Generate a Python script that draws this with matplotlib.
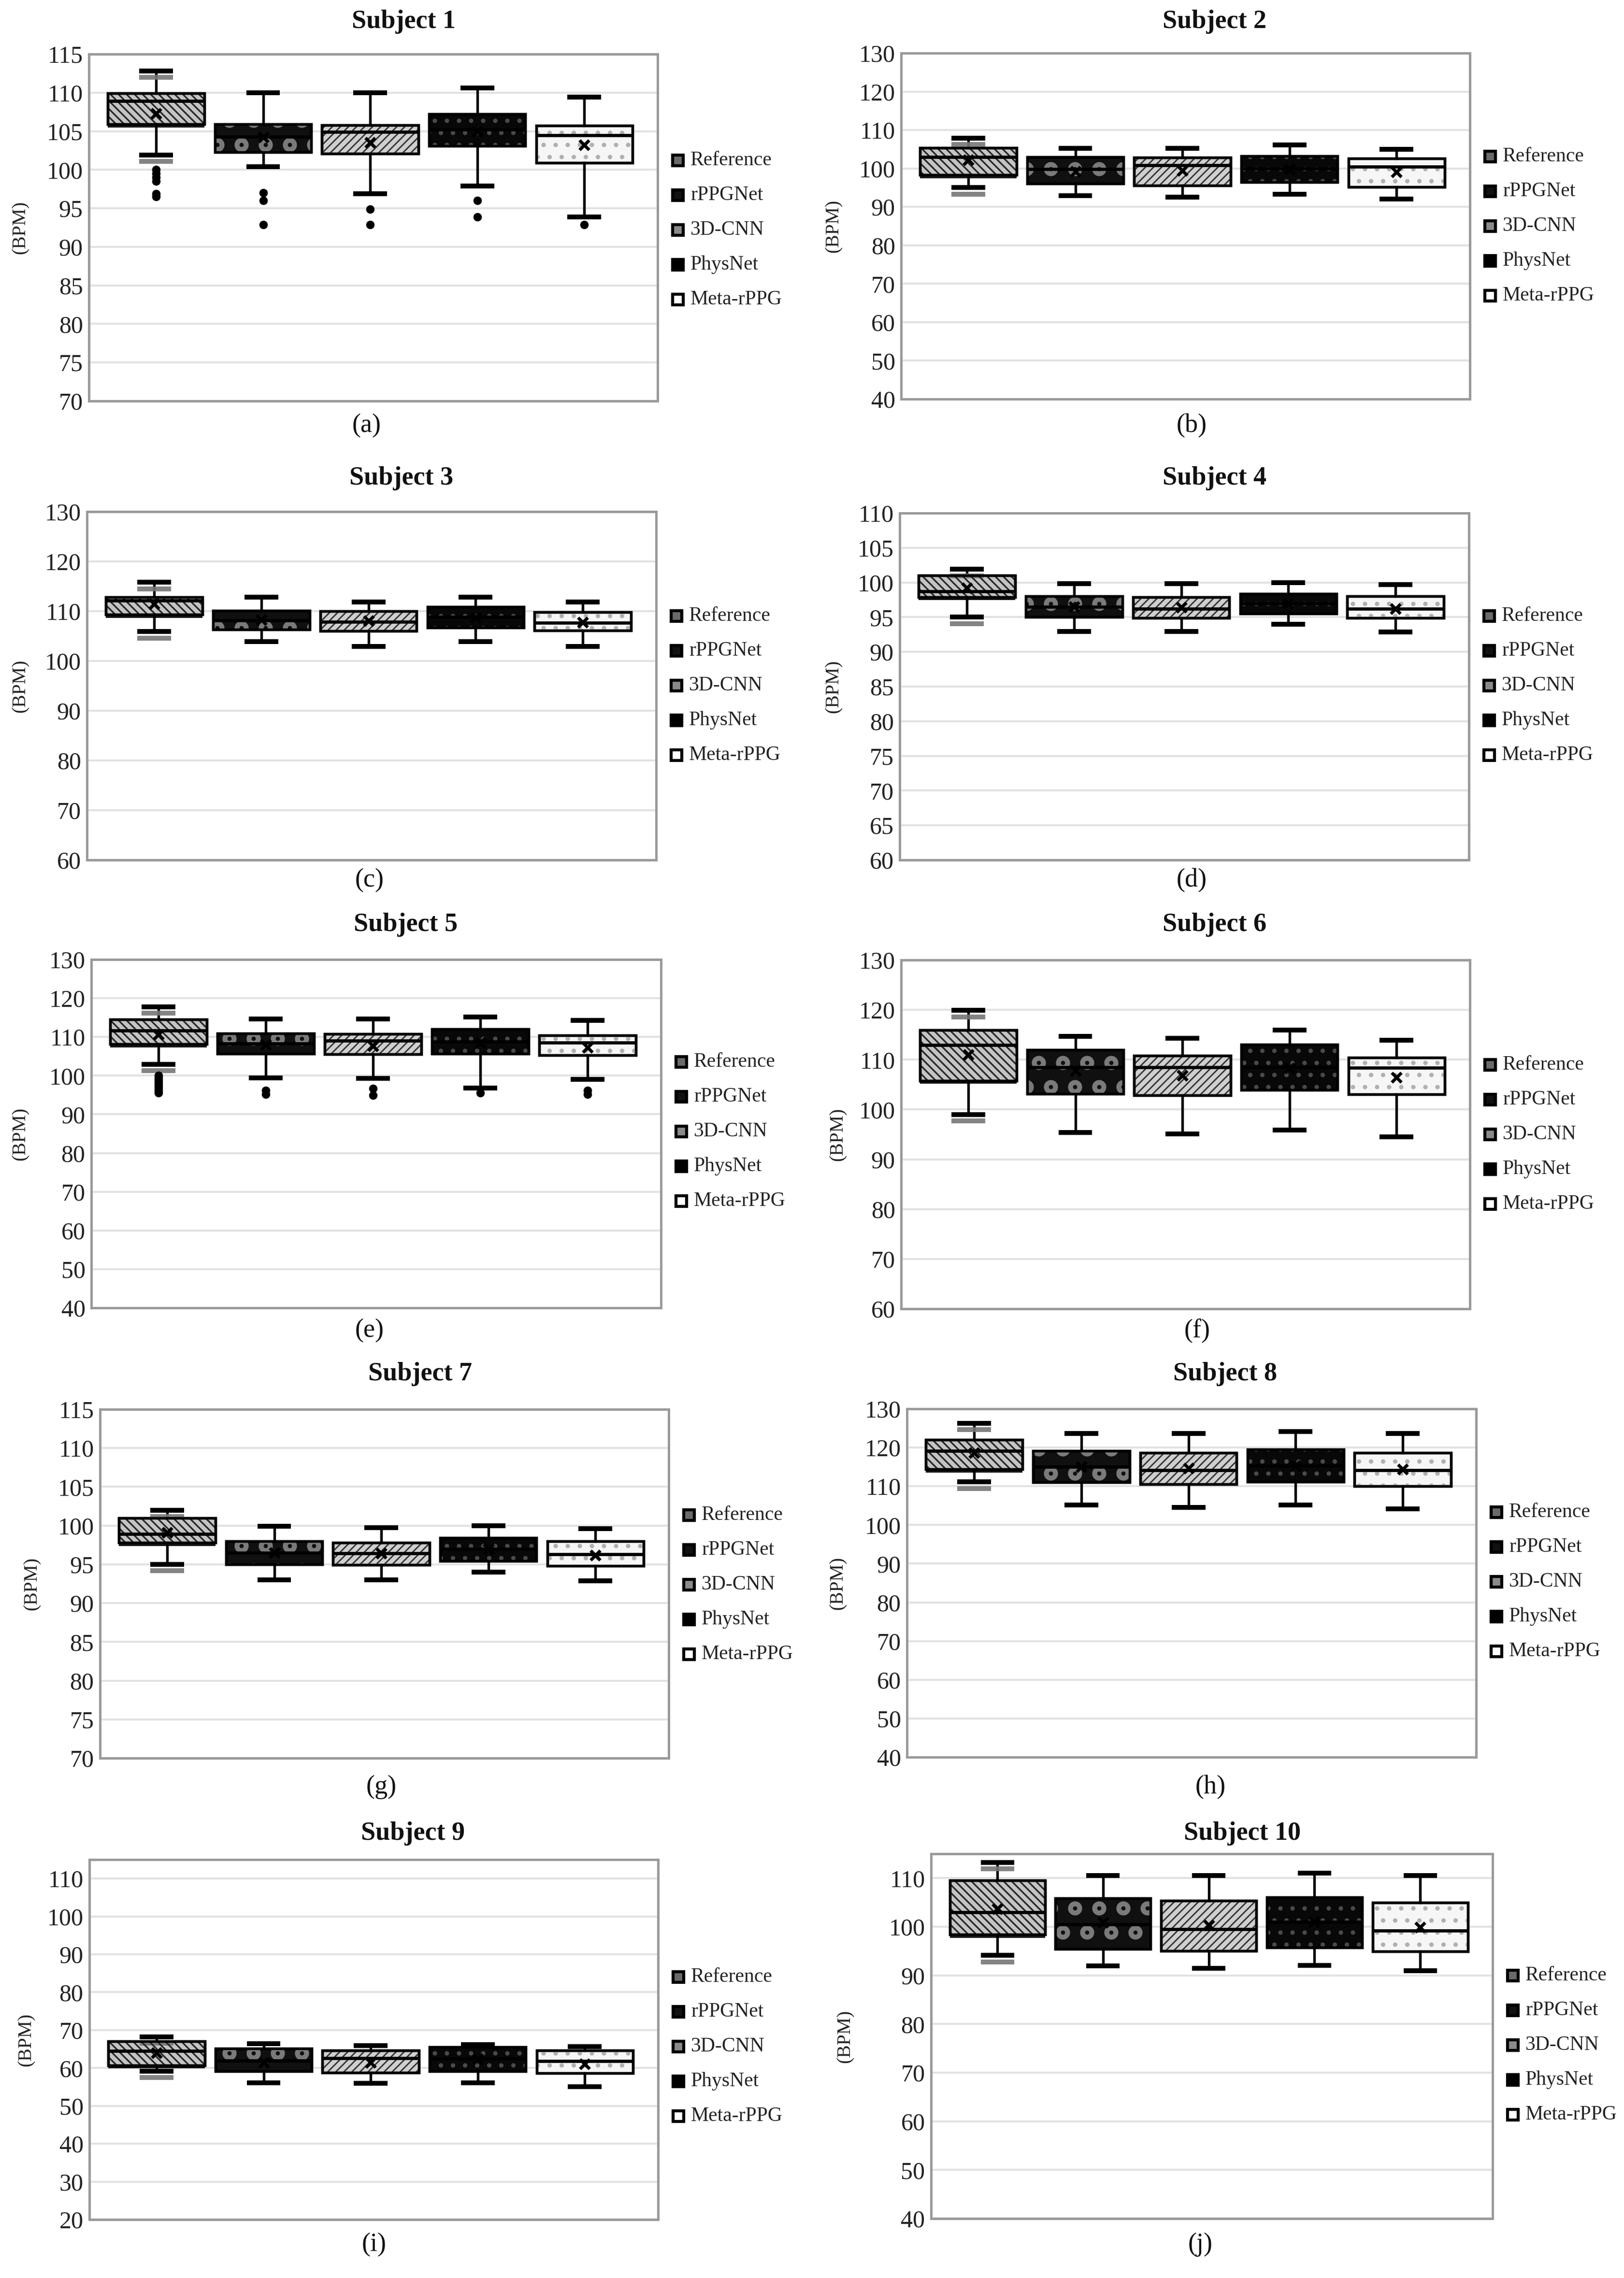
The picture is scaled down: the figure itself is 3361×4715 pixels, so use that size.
import numpy as np
import matplotlib
matplotlib.use("Agg")
import matplotlib.pyplot as plt
from matplotlib.patches import Rectangle
import matplotlib.patheffects as pe

# ---------------- data ----------------
METHODS = ["Reference", "rPPGNet", "3D-CNN", "PhysNet", "Meta-rPPG"]
SUBJECTS = ["Subject %d" % i for i in range(1, 11)]
PANEL_LABELS = ["(a)", "(b)", "(c)", "(d)", "(e)", "(f)", "(g)", "(h)", "(i)", "(j)"]

WHISKER_HIGH = [
    [112.8, 110.0, 110.0, 110.6, 109.4],
    [107.9, 105.3, 105.2, 106.1, 105.0],
    [115.8, 112.8, 111.8, 112.8, 111.8],
    [101.9, 99.85, 99.85, 99.95, 99.7],
    [117.8, 114.7, 114.7, 115.2, 114.3],
    [119.9, 114.7, 114.3, 115.9, 113.9],
    [102.0, 99.9, 99.7, 99.95, 99.6],
    [126.3, 123.6, 123.6, 124.1, 123.6],
    [68.2, 66.4, 65.9, 66.2, 65.7],
    [113.2, 110.5, 110.5, 111.0, 110.5],
]
Q3 = [
    [109.9, 105.9, 105.8, 107.2, 105.7],
    [105.4, 103.0, 102.8, 103.25, 102.6],
    [112.8, 110.1, 110.0, 110.9, 109.8],
    [101.0, 98.0, 97.9, 98.4, 98.0],
    [114.5, 110.9, 110.8, 112.0, 110.45],
    [115.9, 112.0, 110.8, 113.0, 110.4],
    [101.0, 98.0, 97.8, 98.4, 98.0],
    [122.0, 119.2, 118.6, 119.5, 118.6],
    [67.0, 65.2, 64.65, 65.5, 64.65],
    [109.5, 105.9, 105.4, 106.1, 105.0],
]
MEDIAN = [
    [108.9, 104.3, 104.9, 105.2, 104.5],
    [103.0, 99.8, 100.8, 100.0, 100.4],
    [112.1, 108.2, 107.9, 108.8, 107.7],
    [98.7, 96.5, 96.2, 97.0, 96.2],
    [111.6, 108.3, 109.0, 108.8, 108.5],
    [112.9, 108.5, 108.5, 108.5, 108.4],
    [98.9, 96.5, 96.4, 97.0, 96.3],
    [119.1, 115.0, 114.1, 115.3, 114.1],
    [64.5, 62.0, 62.6, 62.5, 61.8],
    [103.0, 100.5, 99.5, 101.0, 99.2],
]
Q1 = [
    [105.9, 102.3, 102.1, 103.1, 100.9],
    [98.3, 96.1, 95.6, 96.4, 95.2],
    [109.3, 106.3, 106.0, 106.7, 106.1],
    [97.9, 95.0, 94.9, 95.5, 94.9],
    [108.1, 105.6, 105.5, 105.6, 105.3],
    [105.8, 103.15, 102.9, 103.9, 103.0],
    [97.8, 95.0, 94.9, 95.45, 94.8],
    [114.4, 111.0, 110.5, 111.1, 110.0],
    [60.7, 59.2, 58.8, 59.1, 58.6],
    [98.4, 95.4, 95.0, 95.7, 94.9],
]
WHISKER_LOW = [
    [101.9, 100.4, 96.9, 97.9, 93.9],
    [95.0, 92.9, 92.5, 93.25, 92.1],
    [105.9, 103.9, 102.9, 103.9, 102.9],
    [95.0, 92.95, 92.95, 94.0, 92.85],
    [102.9, 99.4, 99.3, 96.8, 99.0],
    [99.0, 95.4, 95.1, 95.9, 94.5],
    [95.0, 93.0, 93.0, 94.0, 92.9],
    [111.1, 105.2, 104.5, 105.2, 104.2],
    [59.2, 56.05, 55.9, 56.05, 55.1],
    [94.1, 92.0, 91.5, 92.1, 91.0],
]
MEAN = [
    [107.3, 104.2, 103.5, 105.0, 103.2],
    [102.2, 99.2, 99.4, 99.8, 99.1],
    [111.5, 108.3, 108.1, 108.7, 107.8],
    [99.2, 96.5, 96.4, 97.0, 96.2],
    [110.6, 108.0, 107.7, 108.5, 107.3],
    [111.0, 107.8, 106.8, 108.3, 106.4],
    [99.1, 96.5, 96.4, 97.0, 96.2],
    [118.6, 115.0, 114.7, 115.3, 114.4],
    [64.0, 61.5, 61.5, 62.3, 61.1],
    [103.7, 100.9, 100.3, 101.0, 99.9],
]
FLIERS = [
    [[100.0, 99.5, 99.0, 98.5, 96.9, 96.5], [97.0, 96.0, 92.9], [94.9, 92.9], [96.0, 93.9], [92.9]],
    [[], [], [], [], []],
    [[], [], [], [], []],
    [[], [], [], [], []],
    [[100.1, 99.5, 99.0, 98.5, 98.0, 97.5, 97.0, 96.5, 96.0, 95.6], [96.2, 95.2], [96.7, 94.9], [95.6], [96.2, 95.2]],
    [[], [], [], [], []],
    [[], [], [], [], []],
    [[], [], [], [], []],
    [[], [], [], [], []],
    [[], [], [], [], []],
]
Y_MIN = [70, 40, 60, 60, 40, 60, 70, 40, 20, 40]
Y_MAX = [115, 130, 130, 110, 130, 130, 115, 130, 115, 115]
Y_STEP = [5, 10, 10, 5, 10, 10, 5, 10, 10, 10]

# ---------------- layout (pixels) ----------------
W, H = 3361, 4715
AX_PX = [
    (184, 112, 1361, 830), (1865, 110, 3042, 826),
    (180, 1059, 1358, 1780), (1862, 1062, 3040, 1780),
    (189, 1986, 1368, 2707), (1865, 1987, 3042, 2709),
    (207, 2917, 1384, 3639), (1877, 2916, 3055, 3637),
    (185, 3849, 1362, 4594), (1927, 3837, 3089, 4592),
]
TITLE_PX = [(835, 45), (2514, 45), (831, 990), (2514, 990), (840, 1914),
            (2514, 1914), (870, 2844), (2535, 2844), (855, 3795), (2571, 3795)]
LABEL_PX = [(759, 881), (2466, 881), (765, 1822), (2466, 1822), (765, 2754),
            (2478, 2754), (789, 3699), (2505, 3699), (774, 4646), (2484, 4646)]
YLAB_X = [42, 1725, 42, 1725, 42, 1734, 66, 1734, 54, 1749]
LEG_Y0 = [332, 324, 1275, 1275, 2198, 2204, 3136, 3130, 4092, 4089]

FACE = ["#c4c4c4", "#101010", "#cfcfcf", "#080808", "#f6f6f6"]
HATCH = ["\\" * 6, "o", "/" * 6, "..", ".."]
HATCH_COL = ["#262626", "#7a7a7a", "#333333", "#4a4a4a", "#b0b0b0"]
HATCH_LW = [0.8, 2.2, 0.7, 1.0, 1.0]
LEG_FACE = ["#6a6a6a", "#111111", "#8a8a8a", "#000000", "#ffffff"]

SERIF = ["Liberation Serif", "DejaVu Serif"]
plt.rcParams["font.family"] = SERIF

fig = plt.figure(figsize=(W / 300, H / 300), dpi=300)
fig.patch.set_facecolor("white")


def fxy(px, py):
    return px / W, 1 - py / H


positions = np.arange(1, 6)
BW = 0.9

for k in range(10):
    L, T, R, B = AX_PX[k]
    ax = fig.add_axes([L / W, 1 - B / H, (R - L) / W, (B - T) / H])
    stats = []
    for i in range(5):
        stats.append(dict(whislo=WHISKER_LOW[k][i], q1=Q1[k][i], med=MEDIAN[k][i],
                          q3=Q3[k][i], whishi=WHISKER_HIGH[k][i], mean=MEAN[k][i],
                          fliers=FLIERS[k][i], label=METHODS[i]))
    bp = ax.bxp(stats, positions=positions, widths=BW, patch_artist=True,
                showmeans=True, capwidths=0.27, manage_ticks=False,
                boxprops=dict(linewidth=1.3, edgecolor="black"),
                whiskerprops=dict(linewidth=1.3, color="black"),
                capprops=dict(linewidth=2.4, color="black"),
                medianprops=dict(linewidth=1.6, color="black"),
                meanprops=dict(marker="x", markersize=5, markeredgewidth=1.6,
                               markeredgecolor="black"),
                flierprops=dict(marker="o", markersize=3.2, markerfacecolor="black",
                                markeredgecolor="black"))
    for i in range(5):
        box = bp["boxes"][i]
        box.set_facecolor(FACE[i])
        box.set_zorder(2)
        if i == 0:
            box.set_path_effects([pe.SimplePatchShadow(offset=(0, -1.6),
                                                       shadow_rgbFace="black", alpha=0.9),
                                  pe.Normal()])
        with plt.rc_context({"hatch.linewidth": HATCH_LW[i]}):
            hp = Rectangle((positions[i] - BW / 2, Q1[k][i]), BW, Q3[k][i] - Q1[k][i],
                           facecolor="none", edgecolor=HATCH_COL[i], linewidth=0,
                           hatch=HATCH[i], zorder=2.05)
        ax.add_patch(hp)
        ax.add_patch(Rectangle((positions[i] - BW / 2, Q1[k][i]), BW, Q3[k][i] - Q1[k][i],
                               facecolor="none", edgecolor="black", linewidth=1.3,
                               zorder=2.1))
        bp["medians"][i].set_zorder(2.2)
        bp["means"][i].set_zorder(2.3)
    for c in bp["caps"][0:2]:
        c.set_path_effects([pe.SimpleLineShadow(offset=(0, -3.2), shadow_color="#777777",
                                                alpha=0.9), pe.Normal()])

    ax.set_xlim(0.373, 5.685)
    ax.set_ylim(Y_MIN[k], Y_MAX[k])
    ticks = np.arange(Y_MIN[k], Y_MAX[k] + 0.01, Y_STEP[k])
    ax.set_yticks(ticks)
    ax.set_yticklabels(["%d" % t for t in ticks])
    ax.set_xticks([])
    ax.tick_params(axis="y", length=0, pad=3, labelsize=12, labelcolor="#222222")
    ax.yaxis.grid(True, color="#e2e2e2", linewidth=1.0)
    ax.set_axisbelow(True)
    for s in ax.spines.values():
        s.set_color("#9a9a9a")
        s.set_linewidth(1.2)

    # title, panel label, y label
    tx, ty = fxy(*TITLE_PX[k])
    fig.text(tx, ty, SUBJECTS[k], ha="center", va="center", fontsize=13,
             fontweight="bold", color="#111111")
    lx, ly = fxy(*LABEL_PX[k])
    fig.text(lx, ly, PANEL_LABELS[k], ha="center", va="center", fontsize=13,
             color="#111111")
    yx, yy = fxy(YLAB_X[k], (T + B) / 2)
    fig.text(yx, yy, "(BPM)", rotation=90, ha="center", va="center", fontsize=9.5,
             color="#222222")

    # legend
    mx = R + 42
    for i in range(5):
        py = LEG_Y0[k] + 72 * i
        x0, y0 = fxy(mx - 11, py + 11)
        fig.patches.append(Rectangle((x0, y0), 22 / W, 22 / H, transform=fig.transFigure,
                                     facecolor=LEG_FACE[i], edgecolor="black",
                                     linewidth=1.5, figure=fig))
        tx2, ty2 = fxy(mx + 26, py)
        fig.text(tx2, ty2, METHODS[i], ha="left", va="center", fontsize=10,
                 color="#222222")

fig.savefig("out.png", dpi=300, facecolor="white")
